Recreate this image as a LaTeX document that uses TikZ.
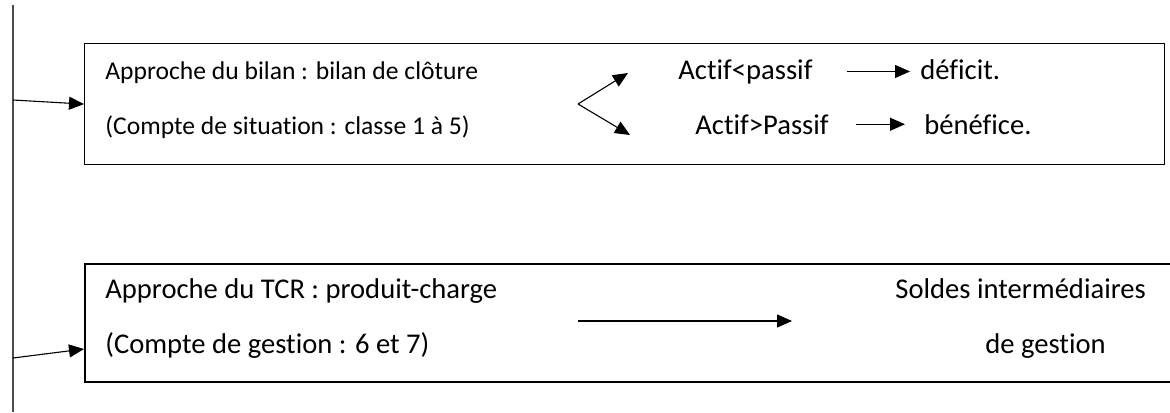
\documentclass[tikz,border=0pt]{standalone}
\usepackage{fontspec}
\setmainfont{Carlito}[Ligatures={NoCommon,NoContextual}]
\usepackage{tikz}
\usetikzlibrary{arrows.meta, positioning}

\begin{document}
\begin{tikzpicture}[x=0.5pt, y=-0.5pt,
    arr/.style={-{Triangle[length=7.5pt, width=6.5pt]}, line width=0.55pt},
    lbl/.style={anchor=base west, inner sep=0pt, font=\fontsize{12.8}{14}\selectfont},
    lblbig/.style={anchor=base west, inner sep=0pt, font=\fontsize{14.3}{16}\selectfont}]
  \useasboundingbox (0,0) rectangle (1170,412);

  % Left trunk
  \coordinate (trunkTop) at (13,5);
  \coordinate (trunkBot) at (13,412);
  \draw[black!70, line width=0.7pt] (trunkTop) -- (trunkBot);

  % Balance-sheet box
  \node[draw, line width=0.6pt, inner sep=0pt, anchor=north west,
        minimum width=540pt, minimum height=60.5pt] (bilan) at (84,43) {};
  \node[lbl] (bilanA) at (105,79) {Approche du bilan : bilan de clôture};
  \node[lbl] (bilanB) at (105,134) {(Compte de situation : classe 1 à 5)};

  % Fork towards the two outcomes
  \coordinate (fork) at (578,104);
  \coordinate (forkUp) at (628,73);
  \coordinate (forkDn) at (630,135);
  \draw[arr] (fork) -- (forkUp);
  \draw[arr] (fork) -- (forkDn);

  \node[lblbig] (lt) at (678,79) {Actif<passif};
  \node[lblbig] (def) at (920,79) {déficit.};
  \node[lblbig] (gt) at (695,134) {Actif>Passif};
  \node[lblbig] (ben) at (924,134) {bénéfice.};
  \draw[arr, shorten <=17pt, shorten >=5pt] (lt.east) -- (lt.east -| def.west);
  \draw[arr, shorten <=13.5pt, shorten >=9.5pt] (gt.east) -- (gt.east -| ben.west);

  % Income-statement box (runs past the right edge)
  \node[draw, line width=1.1pt, inner sep=0pt, anchor=north west,
        minimum width=550pt, minimum height=59pt] (tcr) at (84,263) {};
  \node[lblbig] (tcrA) at (105,298) {Approche du TCR : produit-charge};
  \node[lblbig] (tcrB) at (105,353) {(Compte de gestion : 6 et 7)};
  \node[lblbig] (sigA) at (895,298) {Soldes intermédiaires};
  \node[lblbig] (sigB) at (985,353) {de gestion};

  \coordinate (tcrL) at (578,321);
  \coordinate (tcrR) at (792,321);
  \draw[arr] (tcrL) -- (tcrR);

  % Entries from the trunk
  \coordinate (inA) at (13,100);
  \coordinate (inB) at (13,358);
  \coordinate (tcrIn) at (84,349);
  \draw[arr] (inA) -- (bilan.west);
  \draw[arr] (inB) -- (tcrIn);
\end{tikzpicture}
\end{document}
